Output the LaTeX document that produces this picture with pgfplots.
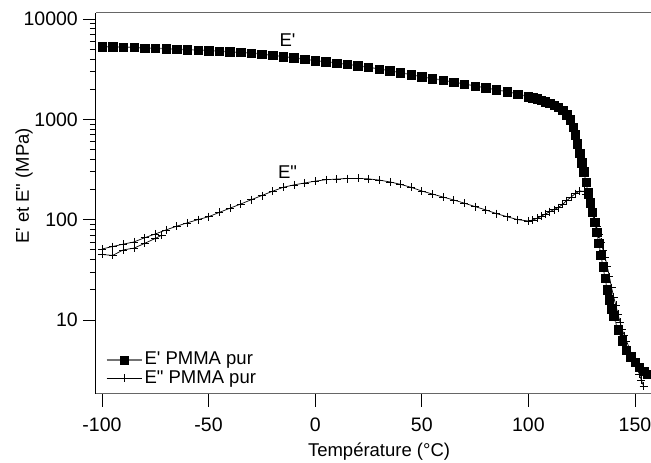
\documentclass[border=0pt]{standalone}
\usepackage{pgfplots}
\pgfplotsset{compat=1.18}
\usepackage{fontspec}
\setmainfont{Liberation Sans}[Ligatures=TeXOff]
\newcommand{\ap}{\symbol{39}}
\newcommand{\dq}{\symbol{34}}
\begin{document}
\fontsize{18}{21}\selectfont
\begin{tikzpicture}
\begin{axis}[
  name=ax,
  scale only axis,
  width=555pt, height=381pt,
  ymode=log,
  xmin=-102.8, xmax=157.5,
  ymin=1.83, ymax=11477,
  axis x line*=bottom, axis y line*=left,
  axis line style={-},
  x axis line style={draw=black!60, line width=1pt},
  y axis line style={draw=black, line width=1pt},
  tick align=outside,
  major tick length=13pt, minor tick length=6pt,
  every tick/.style={black, line width=0.8pt},
  xtick={-100,-50,0,50,100,150},
  xticklabels={-100,-50,0,50,100,150},
  minor xtick={},
  ytick={10,100,1000,10000},
  yticklabels={10,100,1000,10000},
  tick label style={font=\fontsize{19.5}{22}\selectfont},
  yticklabel style={xshift=1pt},
  xticklabel style={yshift=-5pt},
  xlabel={Température (°C)},
  ylabel={E\ap{} et E\dq{} (MPa)},
  label style={font=\fontsize{18.5}{21}\selectfont},
  xlabel style={at={([yshift=-58pt]rel axis cs:0.51,0)}, anchor=center},
  ylabel style={at={([xshift=-72pt]rel axis cs:0,0.546)}, anchor=center},
  clip=true,
  legend style={at={(rel axis cs:0.016,0.118)}, anchor=north west, draw=none, fill=none,
    font=\fontsize{18.5}{21}\selectfont, row sep=-1pt, inner sep=1pt},
  legend cell align=left,
  legend image code/.code={\draw[mark repeat=2,mark phase=2] plot coordinates {(0cm,0cm) (0.62cm,0cm) (1.24cm,0cm)};},
]
\addplot[draw=black!55, line width=1.2pt, mark=square*, mark size=4.2pt, mark options={draw=black, fill=black, line width=0.4pt}] coordinates {
(-100,5300) (-95,5280) (-90,5250) (-85,5200) (-80,5150) (-75,5100) (-70,5050) (-65,5000)
(-60,4950) (-55,4900) (-50,4850) (-45,4780) (-40,4700) (-35,4640) (-30,4580) (-25,4470)
(-20,4350) (-15,4220) (-10,4100) (-5,3970) (0,3850) (5,3750) (10,3650) (15,3530)
(20,3420) (25,3300) (30,3180) (35,3050) (40,2920) (45,2790) (50,2660) (55,2550)
(60,2450) (65,2350) (70,2250) (75,2150) (80,2060) (85,1970) (90,1890) (95,1790)
(100,1680) (102,1640) (104,1600) (106,1550) (108,1500) (110,1450) (112,1390) (114,1320)
(116,1230) (118,1110) (119.5,990) (121,830) (122,700) (123,570) (124,460) (125,370)
(126,300) (127,235) (128,185) (129,148) (130,118) (131,94) (132,75) (133,58)
(134,44) (135,34) (136,26) (137,20) (138,16) (139,13) (140,11) (142,8)
(144,6.2) (146,5.0) (148,4.3) (150,3.8) (152,3.4) (154,3.1) (156,2.9)
};
\addlegendentry{E\ap{} PMMA pur}
\addplot[draw=black, line width=0.7pt, mark=+, mark size=4pt, mark options={line width=0.6pt}] coordinates {
(-100,51) (-95,54) (-90,57) (-85,60) (-80,66) (-75,72) (-70,79) (-65,86)
(-60,93) (-55,100) (-50,107) (-45,118) (-40,130) (-35,143) (-30,158) (-25,174)
(-20,192) (-15,210) (-10,222) (-5,232) (0,242) (5,250) (10,254) (15,257)
(20,258) (25,255) (30,248) (35,238) (40,225) (45,210) (50,193) (55,180)
(60,168) (65,157) (70,146) (75,135) (80,125) (85,115) (90,107) (95,100)
(100,97) (102,99) (104,103) (106,108) (108,114) (110,120) (112,126) (114,132)
(116,142) (118,155) (120,168) (122,182) (124,193) (126,192) (127,180) (128,162)
(129,140) (130,118) (131,100) (132,85) (133,72) (134,60) (135,50) (136,42)
(137,34) (138,27) (139,21) (140,17) (141,14) (142,11.5) (143,9.5) (144,8)
(145,7) (146,6.2) (148,4.8) (150,3.7) (152,2.9) (153,2.5) (154,2.2)
};
\addlegendentry{E\dq{} PMMA pur}
\addplot[forget plot, draw=black, line width=0.7pt, mark=+, mark size=4pt, mark options={line width=0.6pt}] coordinates {
(-100,45) (-95,44) (-90,50) (-85,52) (-80,58) (-75,65) (-72,70)
};
\node[font=\fontsize{18.5}{21}\selectfont] at (axis cs:-13,6200) {E\ap};
\node[font=\fontsize{18.5}{21}\selectfont] at (axis cs:-13,300) {E\dq};
\draw[black!60, line width=1pt] (rel axis cs:0,1) -- (rel axis cs:1,1);
\end{axis}
\pgfresetboundingbox
\path ([shift={(-96pt,-69pt)}]ax.south west) rectangle ([shift={(0pt,13pt)}]ax.north east);
\end{tikzpicture}
\end{document}
